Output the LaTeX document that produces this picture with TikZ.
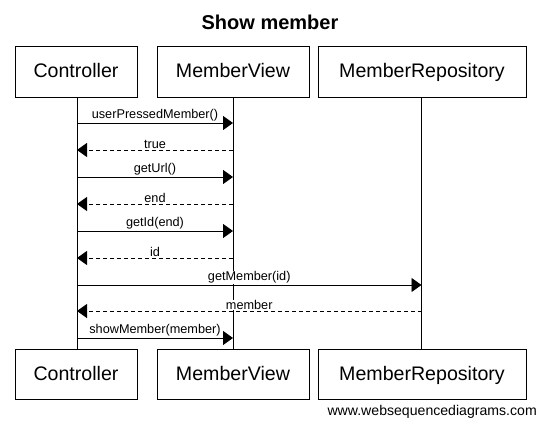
\documentclass[tikz,border=0pt]{standalone}
\usepackage{fontspec}
\setmainfont{Liberation Sans}
\usetikzlibrary{arrows.meta}
\begin{document}
\begin{tikzpicture}[x=1pt,y=-1pt,
  actor/.style={draw=black,line width=0.9pt,minimum height=50.5pt,inner sep=0pt,text height=14pt,text depth=2pt,font=\fontsize{19.6}{22}\selectfont},
  life/.style={draw=black,line width=0.9pt},
  msg/.style={draw=black,line width=0.9pt,-{Triangle[length=10pt,width=14pt]}},
  ret/.style={msg,dash pattern=on 4pt off 3pt},
  lbl/.style={font=\fontsize{12.7}{14}\selectfont,fill=white,inner sep=0.5pt,above=0.5pt}]
\useasboundingbox (0,0) rectangle (538,422);
\fill[white] (0,0) rectangle (538,422);
\node[font=\bfseries\fontsize{20}{24}\selectfont] (title) at (270,22) {Show member};
\node[actor,minimum width=122pt] (c1) at (76,72) {Controller};
\node[actor,minimum width=152pt] (v1) at (233,72) {MemberView};
\node[actor,minimum width=208pt] (r1) at (422,72) {MemberRepository};
\node[actor,minimum width=122pt] (c2) at (76,374.5) {Controller};
\node[actor,minimum width=152pt] (v2) at (233,374.5) {MemberView};
\node[actor,minimum width=208pt] (r2) at (422,374.5) {MemberRepository};
\draw[life] ([xshift=1pt]c1.south) -- ([xshift=1pt]c2.north);
\draw[life] (v1.south) -- (v2.north);
\draw[life] ([xshift=-0.5pt]r1.south) -- ([xshift=-0.5pt]r2.north);
\coordinate (C) at ([xshift=1pt]c1.south);
\coordinate (V) at (v1.south);
\coordinate (R) at ([xshift=-0.5pt]r1.south);
\draw[msg] (C |- 0,123) -- node[lbl]{userPressedMember()} (V |- 0,123);
\draw[ret] (V |- 0,150) -- node[lbl]{true} (C |- 0,150);
\draw[msg] (C |- 0,177) -- node[lbl]{getUrl()} (V |- 0,177);
\draw[ret] (V |- 0,204) -- node[lbl]{end} (C |- 0,204);
\draw[msg] (C |- 0,231) -- node[lbl]{getId(end)} (V |- 0,231);
\draw[ret] (V |- 0,258) -- node[lbl]{id} (C |- 0,258);
\draw[msg] (C |- 0,285) -- node[lbl]{getMember(id)} (R |- 0,285);
\draw[ret] (R |- 0,311) -- node[lbl]{member} (C |- 0,311);
\draw[msg] (C |- 0,338) -- node[lbl]{showMember(member)} (V |- 0,338);
\node[anchor=south east,inner sep=0pt,font=\fontsize{14.1}{16}\selectfont] (wm) at (537,419) {www.websequencediagrams.com};
\end{tikzpicture}
\end{document}
